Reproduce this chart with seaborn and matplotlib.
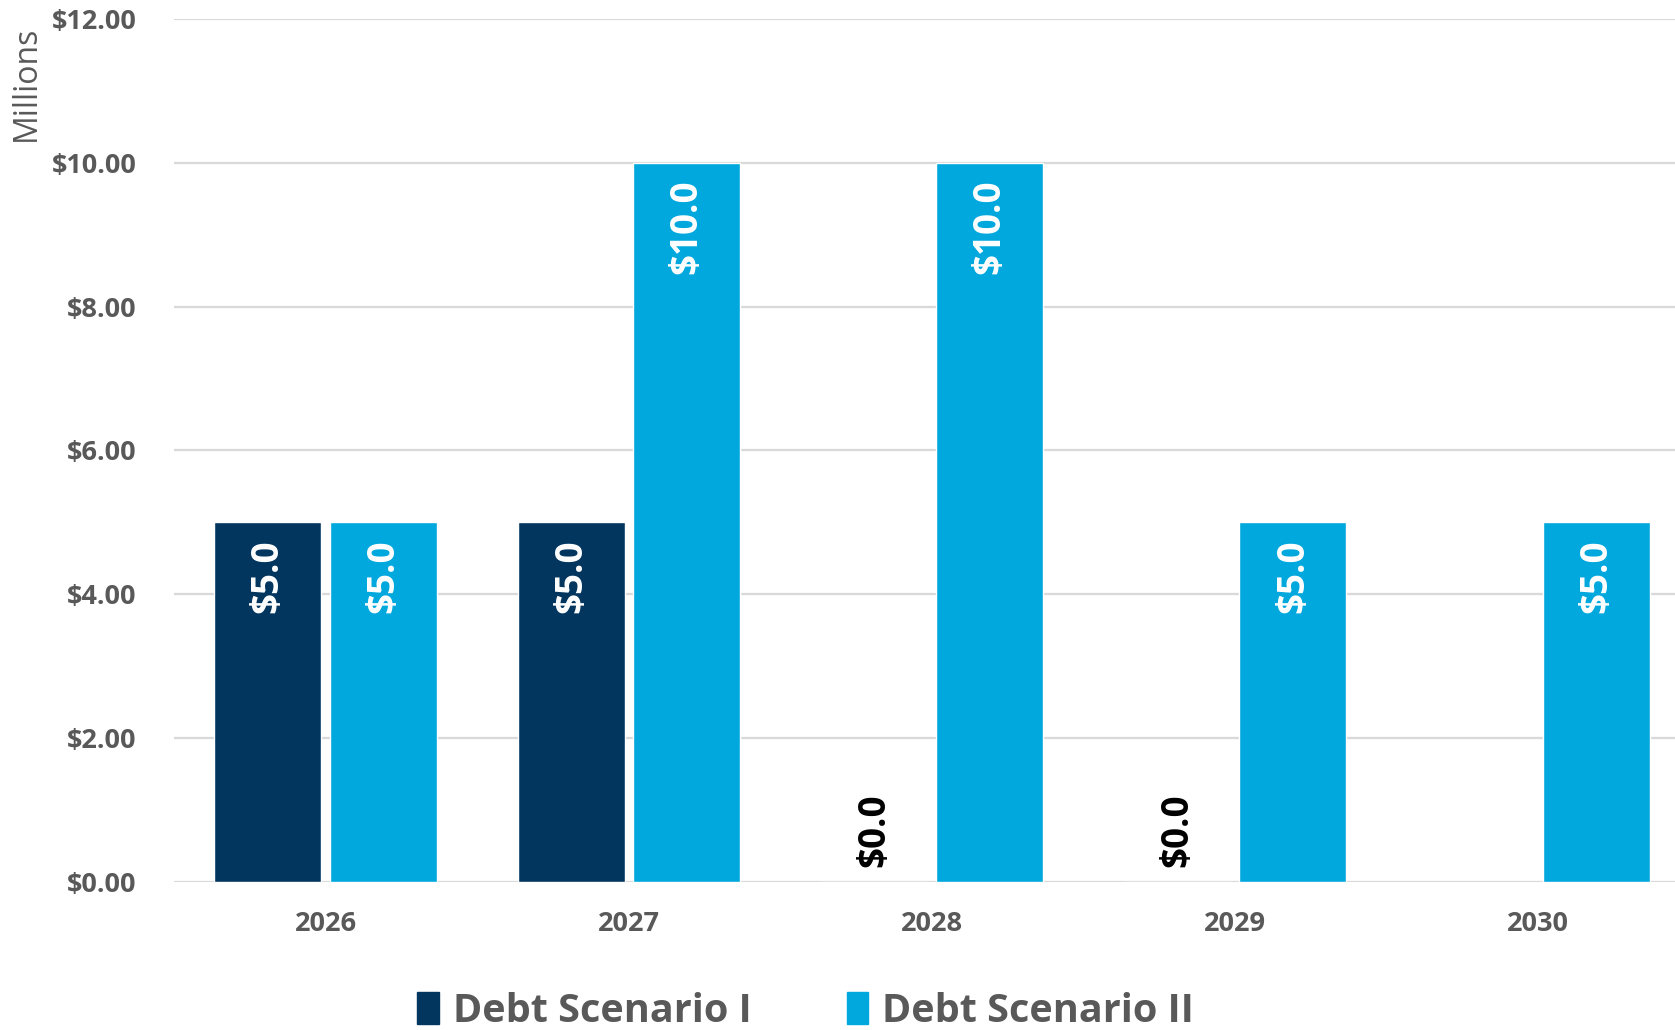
import numpy as np
import pandas as pd
import seaborn as sns
import matplotlib.pyplot as plt

OUT_FILE = "out.png"

years = ["2026", "2027", "2028", "2029", "2030"]
scenario_1 = [5.0, 5.0, 0.0, 0.0, np.nan]
scenario_2 = [5.0, 10.0, 10.0, 5.0, 5.0]
series_names = ["Debt Scenario I", "Debt Scenario II"]
colors = ["#02365F", "#00A8DE"]
y_ticks = [0, 2, 4, 6, 8, 10, 12]

GREY = "#595959"

sns.set_theme(style="white")
plt.rcParams["font.family"] = ["Open Sans", "DejaVu Sans"]

df = pd.DataFrame({
    "Year": years * 2,
    "Value": scenario_1 + scenario_2,
    "Series": [series_names[0]] * len(years) + [series_names[1]] * len(years),
})

fig = plt.figure(figsize=(16.75, 10.3), dpi=100)
ax = fig.add_axes([0.1039, 0.1437, 0.905, 0.838])

sns.barplot(data=df, x="Year", y="Value", hue="Series", palette=colors,
            width=0.762, gap=0.073, saturation=1, ax=ax, legend=True)

ax.set_xlim(-0.5, 4.5)
ax.set_ylim(0, 12)
ax.set_yticks(y_ticks)
ax.set_yticklabels([f"${v:.2f}" for v in y_ticks])
ax.set_xlabel("")
ax.set_ylabel("")
ax.grid(axis="y", color="#d9d9d9", linewidth=1.6)
ax.set_axisbelow(True)
for s in ax.spines.values():
    s.set_visible(False)
ax.tick_params(axis="both", length=0, labelsize=19.5, labelcolor=GREY)
ax.tick_params(axis="y", pad=27)
ax.tick_params(axis="x", pad=21)
for lbl in ax.get_xticklabels() + ax.get_yticklabels():
    lbl.set_fontweight("bold")

# value labels, rotated like the original
for cont, vals in zip(ax.containers, [scenario_1, scenario_2]):
    for bar, v in zip(cont, vals):
        if np.isnan(v):
            continue
        x = bar.get_x() + bar.get_width() / 2
        txt = f"${v:.1f}"
        if v > 0:
            ax.annotate(txt, xy=(x, v), xytext=(0, -12), textcoords="offset points",
                        ha="center", va="top", rotation=90, color="white",
                        fontsize=26.5, fontweight="bold")
        else:
            ax.annotate(txt, xy=(x, v), xytext=(0, 11), textcoords="offset points",
                        ha="center", va="bottom", rotation=90, color="black",
                        fontsize=26.5, fontweight="bold")

fig.text(0.016, 0.919, "Millions", rotation=90, ha="center", va="center",
         color=GREY, fontsize=23)

ax.legend_.remove()
handles = [plt.Rectangle((0, 0), 1, 1, color=c) for c in colors]
fig.legend(handles, series_names, loc="center", bbox_to_anchor=(0.481, 0.018),
           ncol=2, frameon=False, handlelength=0.55, handleheight=0.85,
           handletextpad=0.35, columnspacing=2.4,
           prop={"weight": "bold", "size": 28.5})
for t in fig.legends[0].get_texts():
    t.set_color(GREY)

fig.savefig(OUT_FILE, dpi=100)
